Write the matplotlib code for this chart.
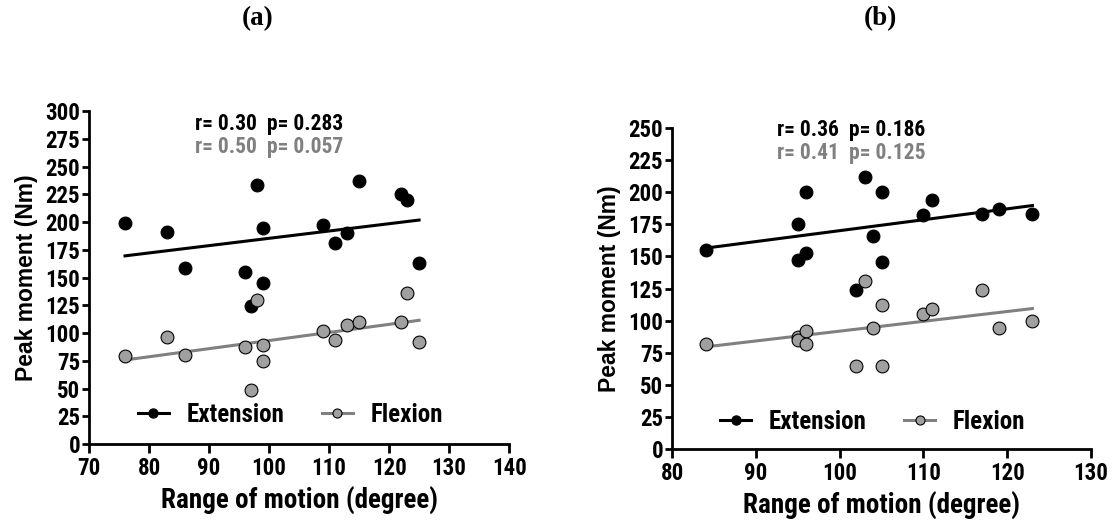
import numpy as np
import matplotlib
matplotlib.use("Agg")
import matplotlib.pyplot as plt
from matplotlib.lines import Line2D

# panel (a)
rom_a = [76, 83, 86, 96, 97, 98, 99, 99, 109, 111, 113, 115, 122, 123, 125]
ext_a = [199, 191, 159, 155, 124, 233, 195, 145, 197, 181, 190, 237, 225, 220, 163]
flex_a = [79, 96, 80, 87, 49, 130, 89, 75, 102, 94, 107, 110, 110, 136, 92]
stats_a = ["r= 0.30  p= 0.283", "r= 0.50  p= 0.057"]

# panel (b)
rom_b = [84, 95, 95, 96, 96, 102, 103, 104, 105, 105, 110, 111, 117, 119, 123]
ext_b = [155, 175, 147, 200, 153, 124, 212, 166, 200, 146, 182, 194, 183, 187, 183]
flex_b = [82, 87, 85, 92, 82, 65, 131, 94, 112, 65, 105, 109, 124, 94, 100]
stats_b = ["r= 0.36  p= 0.186", "r= 0.41  p= 0.125"]

narrow = ["Roboto Condensed", "DejaVu Sans"]
wide = ["Liberation Sans", "DejaVu Sans"]
grey = "#a0a0a0"
grey_line = "#808080"


def panel(ax, x, ext, flex, stats, xlim, ylim, title, tx, ann_y, leg_y):
    x = np.array(x)
    for y, face, lc in [(ext, "black", "black"), (flex, grey, grey_line)]:
        k, b = np.polyfit(x, y, 1)
        xs = np.array([x.min(), x.max()])
        ax.plot(xs, k * xs + b, color=lc, lw=2.2, zorder=2)
        ax.scatter(x, y, s=85, facecolor=face, edgecolor="black", lw=0.8, zorder=3)

    ax.set_xlim(*xlim)
    ax.set_ylim(*ylim)
    ax.set_xticks(np.arange(xlim[0], xlim[1] + 1, 10))
    ax.set_yticks(np.arange(0, ylim[1] + 1, 25))
    for s in ["top", "right"]:
        ax.spines[s].set_visible(False)
    for s in ["left", "bottom"]:
        ax.spines[s].set_linewidth(2.0)
    ax.tick_params(axis="x", width=2, length=6.5, direction="out", pad=3)
    ax.tick_params(axis="y", width=2, length=5, direction="out", pad=1.5)
    for lab in ax.get_xticklabels() + ax.get_yticklabels():
        lab.set_family(narrow)
        lab.set_fontweight("bold")
        lab.set_fontsize(16.5)

    ax.set_xlabel("Range of motion (degree)", family=narrow, fontweight="bold",
                  fontsize=19.5, labelpad=5)
    ax.set_ylabel("Peak moment (Nm)", family=wide, fontweight="bold",
                  fontsize=16.5, labelpad=5)

    ax.text(0.428, ann_y[0], stats[0], transform=ax.transAxes, ha="center",
            va="center", family=narrow, fontweight="bold", fontsize=15.5, color="black")
    ax.text(0.428, ann_y[1], stats[1], transform=ax.transAxes, ha="center",
            va="center", family=narrow, fontweight="bold", fontsize=15.5, color=grey_line)

    handles = [
        Line2D([], [], color="black", lw=2.2, marker="o", ms=6.5,
               mfc="black", mec="black"),
        Line2D([], [], color=grey_line, lw=2.2, marker="o", ms=6.5,
               mfc=grey, mec="black", mew=0.8),
    ]
    ax.legend(handles, ["Extension", "Flexion"], loc="center",
              bbox_to_anchor=(0.479, leg_y), ncol=2, frameon=False,
              handlelength=1.25, columnspacing=1.5, handletextpad=0.7,
              borderpad=0, borderaxespad=0,
              prop={"family": narrow, "weight": "bold", "size": 18})

    ax.figure.text(tx, 0.964, title, ha="center", va="center",
                   family=["Liberation Serif", "DejaVu Serif"],
                   fontweight="bold", fontsize=19.5)


fig = plt.figure(figsize=(11.13, 5.26), dpi=100)
ax1 = fig.add_axes([0.0800, 0.1559, 0.3774, 0.633])
ax2 = fig.add_axes([0.6038, 0.1464, 0.3765, 0.610])

panel(ax1, rom_a, ext_a, flex_a, stats_a, (70, 140), (0, 300), "(a)", 258 / 1113,
      (0.962, 0.893), 0.087)
panel(ax2, rom_b, ext_b, flex_b, stats_b, (80, 130), (0, 250), "(b)", 880 / 1113,
      (0.994, 0.924), 0.085)

fig.savefig("out.png", dpi=100)
